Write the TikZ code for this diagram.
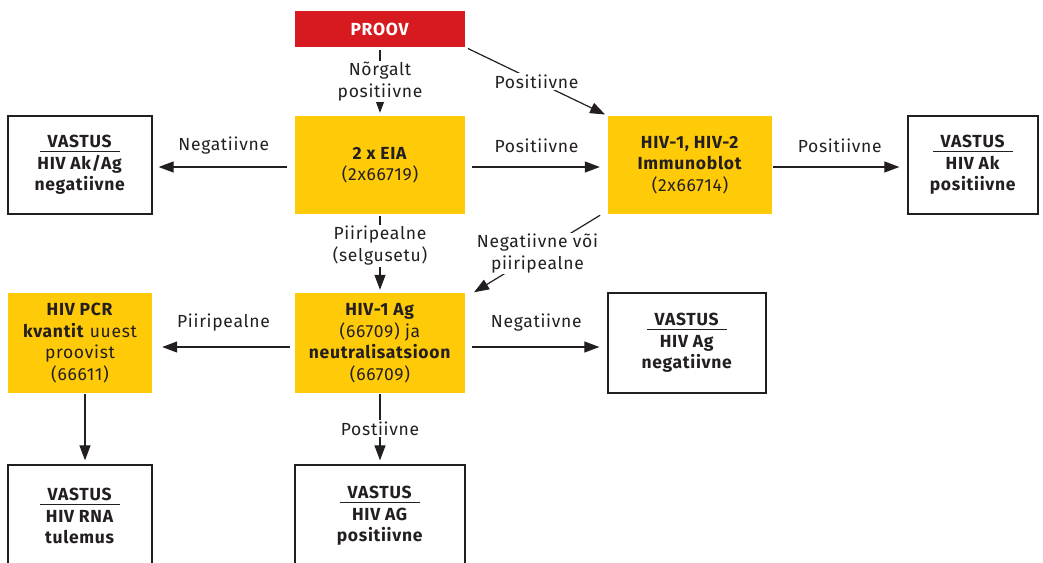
\documentclass[tikz,border=0pt]{standalone}
\usepackage{fontspec}
\setmainfont{Fira Sans}[LetterSpace=4]
\usetikzlibrary{arrows.meta}
\definecolor{ered}{HTML}{D71920}
\definecolor{eyellow}{HTML}{FFCA08}
\definecolor{etext}{HTML}{231F20}
\newcommand{\vastushead}{\makebox[80pt]{\textbf{VASTUS}}\llap{\rule[-4.5pt]{80pt}{1.1pt}}}
\begin{document}
\begin{tikzpicture}[x=1pt,y=-1pt,
  every node/.style={font=\fontsize{17.5}{21.5}\selectfont, text=etext},
  ybox/.style={fill=eyellow, draw=none, minimum width=#1, minimum height=98, align=center, inner sep=0pt},
  wbox/.style={fill=white, draw=etext, line width=1.3pt, minimum width=#1, minimum height=98, align=center, inner sep=0pt},
  rbox/.style={fill=ered, draw=none, minimum width=170, minimum height=36, inner sep=0pt, text=white},
  arr/.style={-{Triangle[length=15pt,width=11pt]}, line width=1.2pt, draw=etext},
  lab/.style={fill=white, inner sep=1.5pt, align=center},
  hlab/.style={inner sep=0pt, yshift=21pt}
]
\useasboundingbox (0,0) rectangle (1043,562);
\node[rbox] (proov) at (380,29) {\textbf{PROOV}};
\node[ybox=170] (eia) at (380,165) {\textbf{2 x EIA}\\(2x66719)};
\node[ybox=164] (blot) at (690,165) {\textbf{HIV-1, HIV-2}\\\textbf{Immunoblot}\\(2x66714)};
\node[wbox=130] (akpos) at (973,165) {\vastushead\\\textbf{HIV Ak}\\\textbf{positiivne}};
\node[wbox=144] (akneg) at (80,165) {\vastushead\\\textbf{HIV Ak/Ag}\\\textbf{negatiivne}};
\node[ybox=144, minimum height=100] (pcr) at (80,343) {\textbf{HIV PCR}\\\textbf{kvantit} uuest\\proovist\\(66611)};
\node[ybox=170, minimum height=100] (ag) at (380,343) {\textbf{HIV-1 Ag}\\(66709) ja\\\textbf{neutralisatsioon}\\(66709)};
\node[wbox=158, minimum height=100] (agneg) at (687,343) {\vastushead\\\textbf{HIV Ag}\\\textbf{negatiivne}};
\node[wbox=144, minimum height=102] (rna) at (80,516) {\vastushead\\\textbf{HIV RNA}\\\textbf{tulemus}};
\node[wbox=170, minimum height=102] (agpos) at (380,516) {\vastushead\\\textbf{HIV AG}\\\textbf{positiivne}};

\draw[arr, shorten <=3pt, shorten >=3pt] (proov.south) -- node[lab]{Nõrgalt\\positiivne} (eia.north);
\draw[arr, shorten <=3pt, shorten >=3pt] (proov.south east) -- node[lab]{Positiivne} (blot.north west);
\draw[arr, shorten <=8pt, shorten >=6pt] ([yshift=-2pt]eia.west) -- node[hlab]{Negatiivne} ([yshift=-2pt]akneg.east);
\draw[arr, shorten <=7pt, shorten >=8pt] ([yshift=-2pt]eia.east) -- node[hlab]{Positiivne} ([yshift=-2pt]blot.west);
\draw[arr, shorten <=1pt, shorten >=8pt] ([yshift=-2pt]blot.east) -- node[hlab]{Positiivne} ([yshift=-2pt]akpos.west);
\draw[arr, shorten <=2pt, shorten >=3pt] (eia.south) -- node[lab, pos=0.4]{Piiripealne\\(selgusetu)} (ag.north);
\draw[arr, shorten <=2pt, shorten >=1pt] ([xshift=-6pt]blot.south west) -- node[lab]{Negatiivne või\\piiripealne} ([xshift=8pt]ag.north east);
\draw[arr, shorten <=5pt, shorten >=10pt] ([yshift=-4pt]ag.west) -- node[hlab, yshift=3pt]{Piiripealne} ([yshift=-4pt]pcr.east);
\draw[arr, shorten <=7pt, shorten >=8pt] ([yshift=-4pt]ag.east) -- node[hlab, yshift=3pt]{Negatiivne} ([yshift=-4pt]agneg.west);
\draw[arr, shorten <=1pt, shorten >=4pt] ([xshift=5pt]pcr.south) -- ([xshift=5pt]rna.north);
\draw[arr, shorten <=1pt, shorten >=4pt] (ag.south) -- node[lab]{Postiivne} (agpos.north);
\end{tikzpicture}
\end{document}
